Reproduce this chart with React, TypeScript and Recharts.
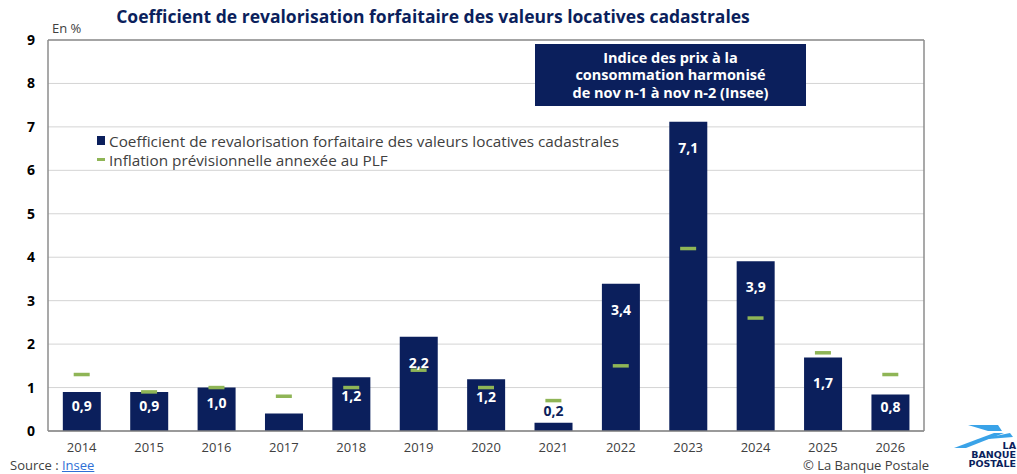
import {
  Bar,
  CartesianGrid,
  ComposedChart,
  LabelList,
  ReferenceLine,
  Scatter,
  XAxis,
  YAxis,
} from "recharts";

const NAVY = "#0b1f5c";
const GREEN = "#8fb556";

const years = ["2014", "2015", "2016", "2017", "2018", "2019", "2020", "2021", "2022", "2023", "2024", "2025", "2026"];
const coefficient = [0.9, 0.9, 1.0, 0.4, 1.24, 2.17, 1.19, 0.19, 3.39, 7.12, 3.91, 1.69, 0.84];
const inflation = [1.3, 0.9, 1.0, 0.8, 1.0, 1.4, 1.0, 0.7, 1.5, 4.2, 2.6, 1.8, 1.3];
const barLabels = ["0,9", "0,9", "1,0", "", "1,2", "2,2", "1,2", "0,2", "3,4", "7,1", "3,9", "1,7", "0,8"];
const yTicks = [0, 1, 2, 3, 4, 5, 6, 7, 8, 9];

const data = years.map((year, i) => ({
  year,
  coefficient: coefficient[i],
  inflation: inflation[i],
  label: barLabels[i],
}));

const FONT = "'Open Sans', sans-serif";

function BarValue(props: any) {
  const { x, y, width, height, index } = props;
  const text = barLabels[index];
  if (!text) return null;
  if (height < 14) {
    return (
      <text x={x + width / 2} y={y - 7} textAnchor="middle" fill={NAVY} fontSize={14} fontWeight={700} fontFamily={FONT}>
        {text}
      </text>
    );
  }
  const cy = y + Math.min(26, height * 0.35);
  return (
    <text x={x + width / 2} y={cy} dy={5} textAnchor="middle" fill="#fff" fontSize={14} fontWeight={700} fontFamily={FONT}>
      {text}
    </text>
  );
}

function Dash(props: any) {
  const { cx, cy } = props;
  if (cx == null || cy == null) return null;
  return <rect x={cx - 8} y={cy - 1.75} width={16} height={3.5} fill={GREEN} />;
}

function LegendBox() {
  const row = { display: "flex", alignItems: "center", height: 19, whiteSpace: "nowrap" } as const;
  return (
    <div style={{ position: "absolute", left: 97, top: 131, fontFamily: FONT, fontSize: 15.3, color: "#404040" }}>
      <div style={row}>
        <span style={{ width: 8, height: 9, background: NAVY, marginRight: 4, display: "inline-block" }} />
        Coefficient de revalorisation forfaitaire des valeurs locatives cadastrales
      </div>
      <div style={row}>
        <span style={{ width: 8, height: 3, background: GREEN, marginRight: 4, display: "inline-block" }} />
        Inflation prévisionnelle annexée au PLF
      </div>
    </div>
  );
}

function Logo() {
  const t = { fontSize: 9.5, fontWeight: 700, fill: NAVY, fontFamily: "'DejaVu Sans', sans-serif" } as const;
  return (
    <svg style={{ position: "absolute", left: 952, top: 422 }} width={65} height={52}>
      <polygon points="16,3 46,3 50,9 36,9" fill="#3aa3e8" />
      <polygon points="2,26 42,11 52,11 14,26" fill="#3aa3e8" />
      <polygon points="24,18 58,11 61,15" fill="#3aa3e8" />
      <text x={64} y={27} textAnchor="end" {...t}>LA</text>
      <text x={64} y={36} textAnchor="end" {...t}>BANQUE</text>
      <text x={64} y={45} textAnchor="end" {...t}>POSTALE</text>
    </svg>
  );
}

export default function App() {
  return (
    <div style={{ position: "fixed", left: 0, top: 0, width: 1017, height: 474, background: "#fff", fontFamily: FONT }}>
      <ComposedChart
        width={1017}
        height={474}
        data={data}
        margin={{ top: 40, right: 0, bottom: 0, left: 0 }}
        barCategoryGap="22%"
      >
        <CartesianGrid vertical={false} stroke="#d4d4d4" />
        <XAxis
          dataKey="year"
          height={43}
          interval={0}
          tickLine={false}
          axisLine={{ stroke: "#7f7f7f", strokeWidth: 1.5 }}
          tickMargin={6}
          tick={{ fill: "#404040", fontSize: 13, fontFamily: FONT }}
        />
        <YAxis
          width={48}
          domain={[0, 9]}
          ticks={yTicks}
          interval={0}
          tickLine={false}
          tickSize={0}
          tickMargin={13}
          axisLine={{ stroke: "#8c8c8c", strokeWidth: 1.5 }}
          tick={{ fill: "#000", fontSize: 14, fontWeight: 700, fontFamily: FONT }}
        />
        <YAxis
          yAxisId="frame"
          orientation="right"
          width={93}
          domain={[0, 9]}
          tick={false}
          tickLine={false}
          axisLine={{ stroke: "#8c8c8c", strokeWidth: 1.5 }}
        />
        <ReferenceLine y={9} stroke="#8c8c8c" strokeWidth={1.5} />
        <Bar dataKey="coefficient" fill={NAVY} isAnimationActive={false}>
          <LabelList dataKey="label" content={BarValue} />
        </Bar>
        <Scatter dataKey="inflation" fill={GREEN} shape={Dash} isAnimationActive={false} />
      </ComposedChart>

      <LegendBox />

      <div
        style={{
          position: "absolute",
          left: 100,
          top: 4,
          width: 666,
          textAlign: "center",
          fontSize: 17.5,
          fontWeight: 700,
          color: NAVY,
          whiteSpace: "nowrap",
        }}
      >
        Coefficient de revalorisation forfaitaire des valeurs locatives cadastrales
      </div>
      <div style={{ position: "absolute", left: 52, top: 19, fontSize: 13, color: "#404040" }}>En %</div>

      <div
        style={{
          position: "absolute",
          left: 535,
          top: 44,
          width: 271,
          height: 62,
          background: NAVY,
          color: "#fff",
          fontSize: 14.5,
          fontWeight: 700,
          lineHeight: "17.5px",
          textAlign: "center",
          display: "flex",
          flexDirection: "column",
          justifyContent: "center",
        }}
      >
        <div>Indice des prix à la</div>
        <div>consommation harmonisé</div>
        <div>de nov n-1 à nov n-2 (Insee)</div>
      </div>

      <div style={{ position: "absolute", left: 10, top: 458, fontSize: 13, lineHeight: "15px", color: "#404040" }}>
        Source : <span style={{ color: "#2f6fd6", textDecoration: "underline" }}>Insee</span>
      </div>
      <div style={{ position: "absolute", left: 803, top: 458, fontSize: 13, lineHeight: "15px", color: "#404040" }}>
        © La Banque Postale
      </div>

      <Logo />
    </div>
  );
}
